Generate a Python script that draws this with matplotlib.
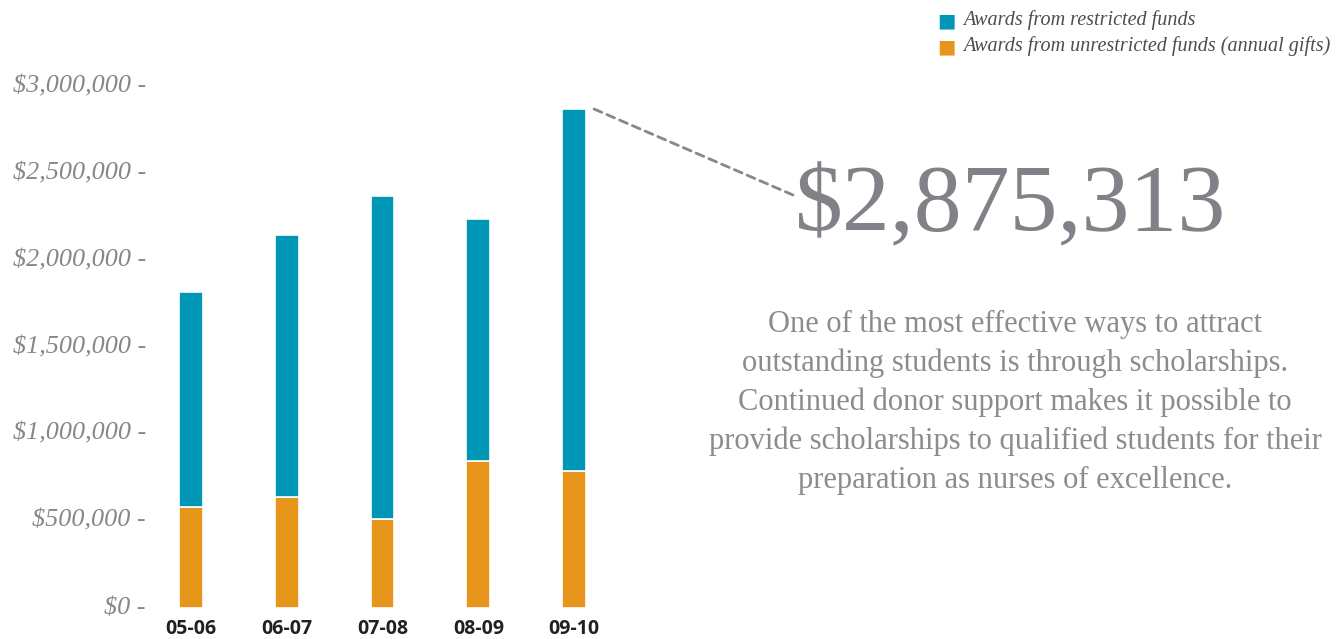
import matplotlib
matplotlib.use("Agg")
import matplotlib.pyplot as plt
from matplotlib.transforms import ScaledTranslation

# scholarship awards per academic year
years = ["05-06", "06-07", "07-08", "08-09", "09-10"]
unrestricted = [582000, 639000, 513000, 844000, 792000]
restricted = [1238000, 1510000, 1860000, 1397000, 2083313]
yticks = [0, 500000, 1000000, 1500000, 2000000, 2500000, 3000000]

TEAL = "#0096b6"
ORANGE = "#e8951b"
GREY = "#85878b"

W, H = 1338, 639
fig = plt.figure(figsize=(W / 100, H / 100), dpi=100)
ax = fig.add_axes([150 / W, 31 / H, 465 / W, 520.8 / H])

x = range(len(years))
bw = 0.25
ax.bar(x, unrestricted, width=bw, color=ORANGE, edgecolor="white", linewidth=1.2)
ax.bar(x, restricted, width=bw, bottom=unrestricted, color=TEAL,
       edgecolor="white", linewidth=1.2)

ax.set_xlim(-0.428, 4.428)
ax.set_ylim(0, 3000000)
ax.set_yticks(yticks)
ax.set_yticklabels([f"${v:,.0f} -" for v in yticks], family="Liberation Serif",
                   style="italic", fontsize=18.8, color=GREY)
ax.set_xticks(list(x))
ax.set_xticklabels(years, family="Open Sans", fontweight="bold", fontsize=14,
                   color="#231f20")
ax.tick_params(length=0)
ax.tick_params(axis="x", pad=8)
ax.tick_params(axis="y", pad=3)
for lab in ax.get_yticklabels():
    lab.set_transform(lab.get_transform() + ScaledTranslation(0, 0.03, fig.dpi_scale_trans))
for s in ax.spines.values():
    s.set_visible(False)

# legend
fig.text(937 / W, 1 - 21 / H, "\u25A0", color=TEAL, fontsize=14, va="center", ha="left",
         family="DejaVu Sans")
fig.text(937 / W, 1 - 47 / H, "\u25A0", color=ORANGE, fontsize=14, va="center", ha="left",
         family="DejaVu Sans")
fig.text(963 / W, 1 - 20 / H, "Awards from restricted funds", family="Liberation Serif",
         style="italic", fontsize=14.5, color="#4d4d4f", va="center")
fig.text(963 / W, 1 - 46 / H, "Awards from unrestricted funds (annual gifts)",
         family="Liberation Serif", style="italic", fontsize=14.5, color="#4d4d4f",
         va="center")

# callout for the latest year
total = unrestricted[-1] + restricted[-1]
ax.annotate("", xy=(4 + bw / 2 + 0.08, total), xycoords="data",
            xytext=(793 / W, 1 - 195 / H), textcoords="figure fraction",
            arrowprops=dict(arrowstyle="-", color=GREY, lw=2, linestyle=(0, (3, 2)),
                            shrinkA=0, shrinkB=0))
fig.text(1011 / W, 1 - 208 / H, f"${total:,.0f}", family="Liberation Serif",
         fontsize=69, color="#808288", ha="center", va="center")

para = ("One of the most effective ways to attract\n"
        "outstanding students is through scholarships.\n"
        "Continued donor support makes it possible to\n"
        "provide scholarships to qualified students for their\n"
        "preparation as nurses of excellence.")
fig.text(1015 / W, 1 - 402 / H, para, family="Liberation Serif", fontsize=22,
         color="#8a8c90", ha="center", va="center", multialignment="center",
         linespacing=1.43)

fig.savefig("out.png", dpi=100)
